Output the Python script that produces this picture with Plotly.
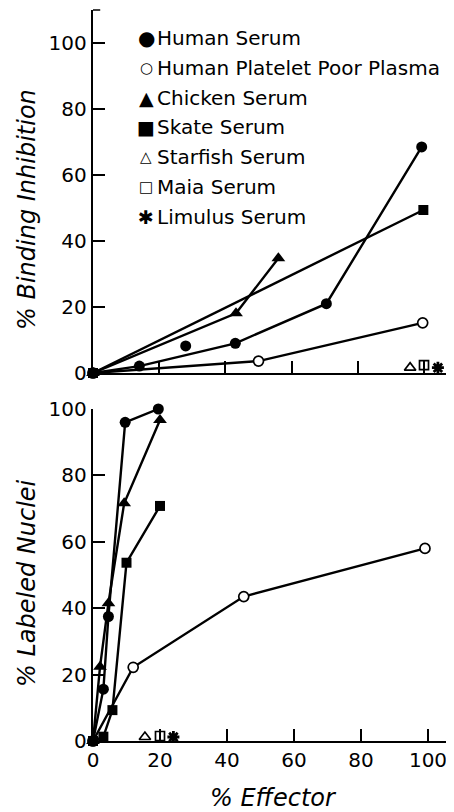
import plotly.graph_objects as go

# ---------------- data ----------------
# Top panel: % Binding Inhibition vs % Effector
hs_bi_x = [0, 14, 43, 70.5, 99.3]
hs_bi_y = [0, 2.1, 9, 21, 68.5]
hs_bi_extra_x = [28]
hs_bi_extra_y = [8.2]
hppp_bi_x = [0, 50, 99.6]
hppp_bi_y = [0, 3.6, 15.2]
chick_bi_x = [0, 43.2, 56]
chick_bi_y = [0, 18.1, 34.8]
skate_bi_x = [0, 99.8]
skate_bi_y = [0, 49.4]
star_bi_x, star_bi_y = [95.8], [1.6]
maia_bi_x, maia_bi_y = [100], [2.4]
lim_bi_x, lim_bi_y = [104.2], [1.6]

# Bottom panel: % Labeled Nuclei vs % Effector
hs_ln_x = [0, 3.1, 4.6, 9.6, 19.5]
hs_ln_y = [0, 15.6, 37.5, 96, 100]
chick_ln_x = [0, 2.1, 4.6, 9.3, 20]
chick_ln_y = [0, 22.4, 41.5, 71.6, 96.7]
skate_ln_x = [0, 3.1, 5.8, 10, 20]
skate_ln_y = [0, 1.3, 9.3, 53.7, 70.8]
hppp_ln_x = [0, 12, 45, 99.1]
hppp_ln_y = [0, 22.2, 43.5, 58]
star_ln_x, star_ln_y = [15.5], [1.2]
maia_ln_x, maia_ln_y = [20], [1.5]
lim_ln_x, lim_ln_y = [24], [1.2]

y_ticks = [0, 20, 40, 60, 80, 100]
x_ticks = [0, 20, 40, 60, 80, 100]

legend_labels = ["Human Serum", "Human Platelet Poor Plasma", "Chicken Serum",
                 "Skate Serum", "Starfish Serum", "Maia Serum", "Limulus Serum"]
legend_symbols = ["\u25CF", "\u25CB", "\u25B2", "\u25A0", "\u25B3", "\u25A1", "\u2731"]
legend_symbol_sizes = [20, 15, 19, 19, 15, 15, 19]

# ---------------- styling ----------------
FONT = "DejaVu Sans"
BLACK = "black"
LW = 2.4

OFF = 8  # page body margin of the browser
W, H = 454 - OFF, 812 - OFF
ML, MR, MT, MB = 93 - OFF, 0, 10 - OFF, 71
PW = W - ML - MR
PH = H - MT - MB


def px2x(px):  # page pixel -> paper x
    return (px - OFF - ML) / PW


def py2y(py):  # page pixel -> paper y
    return (H - MB - (py - OFF)) / PH


fig = go.Figure()


def add(x, y, xa, ya, symbol, size, filled=True, mode="lines+markers"):
    fig.add_trace(go.Scatter(
        x=x, y=y, xaxis=xa, yaxis=ya, mode=mode, cliponaxis=False,
        line=dict(color=BLACK, width=LW),
        marker=dict(symbol=symbol, size=size,
                    color=BLACK if filled else "white",
                    line=dict(color=BLACK, width=1.7 if not filled else 0)),
        showlegend=False, hoverinfo="skip"))


def add_star(x, y, xa, ya):
    fig.add_trace(go.Scatter(x=x, y=y, xaxis=xa, yaxis=ya, mode="markers",
                             cliponaxis=False, showlegend=False, hoverinfo="skip",
                             marker=dict(symbol="asterisk-open", size=10, color=BLACK,
                                         line=dict(color=BLACK, width=2.8))))


# top panel
add(skate_bi_x, skate_bi_y, "x", "y", "square", 10)
add(chick_bi_x, chick_bi_y, "x", "y", "triangle-up", 12)
add(hppp_bi_x, hppp_bi_y, "x", "y", "circle", 10, filled=False)
add(hs_bi_x, hs_bi_y, "x", "y", "circle", 11)
add(hs_bi_extra_x, hs_bi_extra_y, "x", "y", "circle", 11, mode="markers")
add(star_bi_x, star_bi_y, "x", "y", "triangle-up", 10, filled=False, mode="markers")
add(maia_bi_x, maia_bi_y, "x", "y", "square", 9, filled=False, mode="markers")
add_star(lim_bi_x, lim_bi_y, "x", "y")

# bottom panel
add(hppp_ln_x, hppp_ln_y, "x2", "y2", "circle", 10, filled=False)
add(skate_ln_x, skate_ln_y, "x2", "y2", "square", 10)
add(chick_ln_x, chick_ln_y, "x2", "y2", "triangle-up", 12)
add(hs_ln_x, hs_ln_y, "x2", "y2", "circle", 11)
add(star_ln_x, star_ln_y, "x2", "y2", "triangle-up", 10, filled=False, mode="markers")
add(maia_ln_x, maia_ln_y, "x2", "y2", "square", 9, filled=False, mode="markers")
add_star(lim_ln_x, lim_ln_y, "x2", "y2")

axis_common = dict(showline=True, linewidth=LW, linecolor=BLACK, ticks="inside",
                   ticklen=12, tickwidth=1.5, tickcolor=BLACK, showgrid=False,
                   zeroline=False, automargin=False,
                   tickfont=dict(family=FONT, size=20, color=BLACK))

top_bottom_px = 373
bot_top_px = 409

fig.update_layout(
    width=W, height=H,
    margin=dict(l=ML, r=MR, t=MT, b=MB, autoexpand=False),
    paper_bgcolor="white", plot_bgcolor="white",
    showlegend=False,
    xaxis=dict(domain=[0, 1], range=[0, 109.06], anchor="y", tickvals=x_ticks[1:],
               showticklabels=False, **axis_common),
    yaxis=dict(domain=[py2y(top_bottom_px), 1], range=[0, 110], anchor="x",
               tickvals=y_ticks, **axis_common),
    xaxis2=dict(domain=[0, 1], range=[0, 107.76], anchor="y2", tickvals=x_ticks,
                **axis_common),
    yaxis2=dict(domain=[0, py2y(bot_top_px)], range=[0, 100], anchor="x2",
                tickvals=y_ticks, **axis_common),
)

# small hook at top of upper y axis
fig.add_shape(type="line", xref="x domain", yref="y domain", x0=0, x1=0.02, y0=1, y1=1,
              line=dict(color=BLACK, width=1.5))

ann = []
ann.append(dict(text="<i>% Binding Inhibition</i>", x=px2x(27), y=py2y(210),
                textangle=-90))
ann.append(dict(text="<i>% Labeled Nuclei</i>", x=px2x(27), y=py2y(583),
                textangle=-90))
ann.append(dict(text="<i>% Effector</i>", x=px2x(273), y=py2y(798)))
for a in ann:
    a.update(xref="paper", yref="paper", showarrow=False, xanchor="center",
             yanchor="middle", font=dict(family=FONT, size=24, color=BLACK))
    fig.add_annotation(**a)

for i, (sym, sz, lab) in enumerate(zip(legend_symbols, legend_symbol_sizes, legend_labels)):
    yy = py2y(38 + 29.8 * i)
    fig.add_annotation(text=sym, x=px2x(146), y=yy, xref="paper", yref="paper",
                       showarrow=False, xanchor="center", yanchor="middle",
                       font=dict(family=FONT, size=sz, color=BLACK))
    fig.add_annotation(text=lab, x=px2x(155), y=yy, xref="paper", yref="paper",
                       showarrow=False, xanchor="left", yanchor="middle",
                       font=dict(family=FONT, size=20, color=BLACK))

fig.write_html("out.html")
